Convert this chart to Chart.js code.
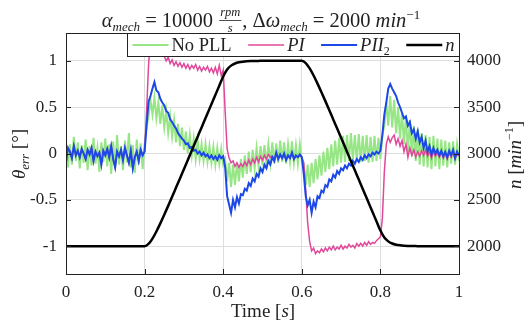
<!DOCTYPE html>
<html>
<head>
<meta charset="utf-8">
<script src="https://cdn.jsdelivr.net/npm/chart.js@4"></script>
<style>
  html, body { margin: 0; padding: 0; background: #fff; }
</style>
</head>
<body>
<canvas id="c" width="525" height="322"></canvas>
<script>
// sample times (s)
var tSample = [];
for (var i = 0; i <= 200; i++) tSample.push(+(i * 0.005).toFixed(3));
var tSpeed = [];
for (var k = 0; k <= 100; k++) tSpeed.push(+(k * 0.01).toFixed(2));

var seriesNames = ['No PLL', 'PI', 'PII2', 'n'];
var xTicks = [0, 0.2, 0.4, 0.6, 0.8, 1];
var leftTicks = [-1, -0.5, 0, 0.5, 1];
var rightTicks = [2000, 2500, 3000, 3500, 4000];

// theta_err [deg], No PLL
var noPll = [
  0.14, -0.15, 0.10, -0.12, 0.18, -0.08, 0.12, -0.16, 0.09, -0.10,
  0.15, -0.18, 0.08, -0.13, 0.17, -0.11, 0.06, -0.20, 0.12, -0.09,
  0.16, -0.14, 0.10, -0.22, 0.13, -0.16, 0.20, -0.12, 0.08, -0.18,
  0.14, -0.10, 0.22, -0.15, 0.09, -0.21, 0.15, -0.12, 0.11, -0.17,
  0.10, 0.28, 0.40, 0.58, 0.42, 0.60, 0.38, 0.55, 0.32, 0.52,
  0.28, 0.46, 0.22, 0.40, 0.18, 0.36, 0.12, 0.32, 0.08, 0.28,
  0.04, 0.24, 0.00, 0.20, -0.02, 0.16, -0.06, 0.14, -0.06, 0.10,
  -0.08, 0.10, -0.09, 0.08, -0.10, 0.07, -0.12, 0.06, -0.11, 0.05,
  -0.12, -0.06, -0.30, -0.10, -0.36, -0.12, -0.34, -0.10, -0.30, -0.06,
  -0.26, -0.02, -0.22, 0.02, -0.20, 0.04, -0.16, 0.06, -0.14, 0.08,
  -0.13, 0.09, -0.12, 0.10, -0.10, 0.12, -0.11, 0.11, -0.10, 0.14,
  -0.09, 0.12, -0.11, 0.10, -0.09, 0.13, -0.10, 0.09, -0.11, 0.10,
  -0.08, -0.12, -0.34, -0.12, -0.36, -0.10, -0.32, -0.06, -0.28, -0.02,
  -0.24, 0.02, -0.20, 0.06, -0.17, 0.10, -0.14, 0.14, -0.12, 0.17,
  -0.10, 0.19, -0.09, 0.20, -0.08, 0.22, -0.07, 0.20, -0.08, 0.21,
  -0.09, 0.19, -0.08, 0.20, -0.10, 0.18, -0.09, 0.19, -0.08, 0.17,
  -0.06, 0.20, 0.30, 0.55, 0.30, 0.62, 0.28, 0.58, 0.22, 0.50,
  0.16, 0.45, 0.10, 0.40, 0.02, 0.36, -0.03, 0.30, -0.08, 0.26,
  -0.12, 0.22, -0.14, 0.20, -0.15, 0.18, -0.17, 0.19, -0.14, 0.16,
  -0.17, 0.15, -0.13, 0.14, -0.15, 0.12, -0.11, 0.13, -0.12, 0.10,
  -0.08
];

// PI
var piErr = [
  -0.10, 0.06, 0.02, -0.05, 0.08, -0.02, 0.03, -0.04, 0.05, 0.00,
  -0.06, 0.04, -0.01, 0.06, -0.08, 0.02, -0.03, 0.01, -0.12, 0.03,
  -0.02, 0.05, -0.04, 0.08, -0.06, -0.15, 0.02, -0.03, 0.04, -0.07,
  0.06, -0.02, -0.10, 0.03, -0.16, -0.04, 0.02, -0.08, 0.04, -0.02,
  0.02, 0.45, 0.95, 1.25, 1.40, 1.45, 1.42, 1.38, 1.25, 1.15,
  1.05, 1.00, 1.04, 0.97, 1.01, 0.95, 0.99, 0.94, 0.98, 0.93,
  0.97, 0.92, 0.96, 0.91, 0.95, 0.92, 0.96, 0.90, 0.94, 0.89,
  0.93, 0.90, 0.94, 0.88, 0.92, 0.87, 0.93, 0.86, 0.95, 0.84,
  0.90, 0.45, 0.05, -0.05, -0.10, -0.08, -0.14, -0.10, -0.15, -0.11,
  -0.14, -0.09, -0.13, -0.07, -0.12, -0.06, -0.10, -0.04, -0.09, -0.03,
  -0.07, -0.02, -0.06, -0.01, -0.04, -0.03, -0.07, 0.00, -0.06, -0.02,
  -0.05, -0.01, -0.07, -0.03, -0.05, 0.00, -0.06, -0.03, -0.04, -0.02,
  -0.04, -0.10, -0.40, -0.75, -0.95, -1.05, -1.02, -1.08, -1.05, -1.07,
  -1.03, -1.06, -1.02, -1.05, -1.01, -1.04, -1.00, -1.04, -1.01, -1.03,
  -0.99, -1.03, -1.00, -1.02, -0.98, -1.01, -0.99, -1.02, -0.97, -1.00,
  -0.97, -1.00, -0.96, -0.99, -0.95, -0.98, -0.96, -0.97, -0.94, -0.92,
  -0.90, -0.70, -0.20, 0.10, 0.18, 0.12, 0.17, 0.20, 0.10, 0.16,
  0.08, 0.14, 0.02, 0.10, -0.04, 0.06, -0.02, 0.04, -0.04, 0.02,
  -0.03, 0.03, -0.02, 0.04, -0.03, 0.02, -0.05, 0.02, -0.03, 0.01,
  -0.04, 0.01, -0.05, 0.00, -0.06, 0.01, -0.04, 0.02, -0.06, 0.00,
  -0.03
];

// PII2
var pii2Err = [
  -0.10, 0.06, 0.02, -0.05, 0.08, -0.02, 0.03, -0.04, 0.05, 0.00,
  -0.06, 0.04, -0.01, 0.06, -0.08, 0.02, -0.03, 0.01, -0.12, 0.03,
  -0.02, 0.05, -0.04, 0.08, -0.06, -0.15, 0.02, -0.03, 0.04, -0.07,
  0.06, -0.02, -0.10, 0.03, -0.16, -0.04, 0.02, -0.08, 0.04, -0.02,
  0.02, 0.30, 0.56, 0.62, 0.70, 0.77, 0.68, 0.66, 0.59, 0.55,
  0.52, 0.46, 0.44, 0.37, 0.34, 0.30, 0.27, 0.22, 0.19, 0.16,
  0.14, 0.10, 0.11, 0.06, 0.07, 0.03, 0.04, 0.00, 0.02, -0.02,
  0.01, -0.03, -0.01, -0.05, -0.02, -0.06, -0.03, -0.07, -0.02, -0.05,
  -0.03, -0.15, -0.46, -0.55, -0.64, -0.50, -0.58, -0.47, -0.54, -0.44,
  -0.45, -0.38, -0.40, -0.32, -0.35, -0.27, -0.30, -0.22, -0.25, -0.16,
  -0.20, -0.12, -0.16, -0.08, -0.12, -0.04, -0.08, 0.01, -0.06, -0.01,
  -0.05, 0.00, -0.07, -0.02, -0.05, 0.01, -0.06, -0.02, -0.04, -0.01,
  -0.04, -0.22, -0.46, -0.56, -0.50, -0.64, -0.52, -0.58, -0.46, -0.48,
  -0.40, -0.42, -0.34, -0.36, -0.28, -0.30, -0.23, -0.26, -0.19, -0.22,
  -0.16, -0.18, -0.13, -0.16, -0.11, -0.13, -0.08, -0.11, -0.06, -0.09,
  -0.04, -0.07, -0.02, -0.05, -0.01, -0.03, 0.01, -0.01, 0.02, 0.00,
  0.03, 0.20, 0.42, 0.55, 0.70, 0.75, 0.70, 0.66, 0.62, 0.55,
  0.50, 0.44, 0.38, 0.40, 0.30, 0.34, 0.22, 0.26, 0.16, 0.24,
  0.12, 0.18, 0.06, 0.14, 0.02, 0.08, -0.01, 0.06, 0.00, 0.04,
  -0.02, 0.03, -0.03, 0.02, -0.04, 0.03, -0.02, 0.04, -0.05, 0.02,
  -0.02
];

// speed n [1/min]
var speed = [
  2000, 2000, 2000, 2000, 2000, 2000, 2000, 2000, 2000, 2000,
  2000, 2000, 2000, 2000, 2000, 2000, 2000, 2000, 2000, 2000,
  2000, 2024, 2082, 2159, 2246, 2339, 2435, 2533, 2632, 2731,
  2831, 2931, 3031, 3131, 3231, 3331, 3431, 3531, 3631, 3731,
  3831, 3906, 3948, 3971, 3984, 3991, 3995, 3997, 3998, 3999,
  4000, 4000, 4000, 4000, 4000, 4000, 4000, 4000, 4000, 4000,
  4000, 3976, 3918, 3841, 3754, 3661, 3565, 3467, 3368, 3269,
  3169, 3069, 2969, 2869, 2769, 2669, 2569, 2469, 2369, 2269,
  2169, 2094, 2052, 2029, 2016, 2009, 2005, 2003, 2002, 2001,
  2000, 2000, 2000, 2000, 2000, 2000, 2000, 2000, 2000, 2000,
  2000
];

var serif = '"Liberation Serif", "DejaVu Serif", serif';
function fnt(sz, it) { return (it ? 'italic ' : '') + sz + 'px ' + serif; }

function partWidth(ctx, p) {
  if (p.frac) {
    ctx.font = fnt(p.sz, true);
    return Math.max(ctx.measureText(p.frac[0]).width, ctx.measureText(p.frac[1]).width) + 4;
  }
  ctx.font = fnt(p.sz, p.it);
  return ctx.measureText(p.s).width;
}
function richWidth(ctx, parts) {
  var w = 0;
  parts.forEach(function (p) { w += partWidth(ctx, p); });
  return w;
}

// draws text made of pieces (italic, sub/superscript, fraction)
function drawRich(ctx, parts, x, y, align) {
  var w = richWidth(ctx, parts);
  var cx = align === 'center' ? x - w / 2 : x;
  ctx.textBaseline = 'alphabetic';
  ctx.fillStyle = '#222';
  parts.forEach(function (p) {
    var pw = partWidth(ctx, p);
    if (p.frac) {
      ctx.font = fnt(p.sz, true);
      ctx.textAlign = 'center';
      ctx.fillText(p.frac[0], cx + pw / 2, y - 11);
      ctx.fillText(p.frac[1], cx + pw / 2, y + 5);
      ctx.fillRect(cx + 1, y - 7, pw - 2, 0.8);
    } else {
      ctx.font = fnt(p.sz, p.it);
      ctx.textAlign = 'left';
      ctx.fillText(p.s, cx, y + (p.dy || 0));
    }
    cx += pw;
  });
  return w;
}

var decor = {
  id: 'decor',
  afterDraw: function (chart) {
    var ctx = chart.ctx, a = chart.chartArea;
    var sx = chart.scales.x, sy = chart.scales.y, sy2 = chart.scales.y2;
    ctx.save();
    // axes box
    ctx.strokeStyle = '#222';
    ctx.lineWidth = 1;
    ctx.strokeRect(Math.round(a.left) + 0.5, Math.round(a.top) + 0.5,
      Math.round(a.right - a.left), Math.round(a.bottom - a.top));
    // inward ticks
    ctx.beginPath();
    leftTicks.forEach(function (v) {
      var py = Math.round(sy.getPixelForValue(v)) + 0.5;
      ctx.moveTo(a.left, py); ctx.lineTo(a.left + 5, py);
    });
    rightTicks.forEach(function (v) {
      var py = Math.round(sy2.getPixelForValue(v)) + 0.5;
      ctx.moveTo(a.right, py); ctx.lineTo(a.right - 5, py);
    });
    xTicks.forEach(function (v) {
      var px = Math.round(sx.getPixelForValue(v)) + 0.5;
      ctx.moveTo(px, a.bottom); ctx.lineTo(px, a.bottom - 5);
    });
    ctx.stroke();

    // legend
    var lf = 18.5;
    var items = [
      { c: chart.data.datasets[0].borderColor, w: 2, parts: [{ s: seriesNames[0], sz: lf }] },
      { c: chart.data.datasets[1].borderColor, w: 1.5, parts: [{ s: seriesNames[1], it: 1, sz: lf }] },
      { c: chart.data.datasets[2].borderColor, w: 2, parts: [{ s: 'PII', it: 1, sz: lf }, { s: '2', sz: 12, dy: 4 }] },
      { c: chart.data.datasets[3].borderColor, w: 2.5, parts: [{ s: seriesNames[3], it: 1, sz: lf }] }
    ];
    var bx0 = 127.5, bx1 = Math.round(a.right) + 0.5, by0 = Math.round(a.top) + 0.5, by1 = 56.5;
    ctx.fillStyle = '#fff';
    ctx.fillRect(bx0, by0, bx1 - bx0, by1 - by0);
    ctx.strokeStyle = '#222';
    ctx.lineWidth = 1;
    ctx.strokeRect(bx0, by0, bx1 - bx0, by1 - by0);
    var lineLen = 36, gapT = 3;
    var natural = 0;
    items.forEach(function (it) { it.tw = richWidth(ctx, it.parts); natural += lineLen + gapT + it.tw; });
    var gap = (bx1 - bx0 - 10 - natural) / (items.length - 1);
    var lx = bx0 + 5, ly = 45;
    items.forEach(function (it) {
      ctx.strokeStyle = it.c;
      ctx.lineWidth = it.w;
      ctx.beginPath();
      ctx.moveTo(lx, ly); ctx.lineTo(lx + lineLen, ly);
      ctx.stroke();
      drawRich(ctx, it.parts, lx + lineLen + gapT, 51, 'left');
      lx += lineLen + gapT + it.tw + gap;
    });

    // title
    drawRich(ctx, [
      { s: 'α', it: 1, sz: 20.5 }, { s: 'mech', it: 1, sz: 13, dy: 4 },
      { s: ' = 10000 ', sz: 20.5 }, { frac: ['rpm', 's'], sz: 12.5 },
      { s: ', Δ', sz: 20.5 }, { s: 'ω', it: 1, sz: 20.5 }, { s: 'mech', it: 1, sz: 13, dy: 4 },
      { s: ' = 2000 ', sz: 20.5 }, { s: 'min', it: 1, sz: 20.5 }, { s: '−1', sz: 13, dy: -8 }
    ], 261, 27, 'center');

    // x axis title
    drawRich(ctx, [{ s: 'Time [', sz: 19 }, { s: 's', it: 1, sz: 19 }, { s: ']', sz: 19 }], 263, 317, 'center');

    // left axis title
    ctx.save();
    ctx.translate(25, 154);
    ctx.rotate(-Math.PI / 2);
    drawRich(ctx, [{ s: 'θ', it: 1, sz: 19 }, { s: 'err', it: 1, sz: 13, dy: 4 }, { s: ' [°]', sz: 19 }], 0, 0, 'center');
    ctx.restore();

    // right axis title
    ctx.save();
    ctx.translate(521, 155);
    ctx.rotate(-Math.PI / 2);
    drawRich(ctx, [{ s: 'n', it: 1, sz: 19 }, { s: ' [', sz: 19 }, { s: 'min', it: 1, sz: 19 },
      { s: '−1', sz: 12, dy: -8 }, { s: ']', sz: 19 }], 0, 0, 'center');
    ctx.restore();
    ctx.restore();
  }
};

function pts(ts, vs) {
  return ts.map(function (t, i) { return { x: t, y: vs[i] }; });
}

var tickFont = { family: serif, size: 17 };

var ctx = document.getElementById('c').getContext('2d');
var chart = new Chart(ctx, {
  type: 'line',
  data: {
    datasets: [
      { label: seriesNames[0], data: pts(tSample, noPll), borderColor: '#96e685', borderWidth: 2, yAxisID: 'y', order: 3 },
      { label: seriesNames[1], data: pts(tSample, piErr), borderColor: '#e0489a', borderWidth: 1.5, yAxisID: 'y', order: 2 },
      { label: seriesNames[2], data: pts(tSample, pii2Err), borderColor: '#1b48e6', borderWidth: 2, yAxisID: 'y', order: 1 },
      { label: seriesNames[3], data: pts(tSpeed, speed), borderColor: '#000000', borderWidth: 2.5, yAxisID: 'y2', order: 0, cubicInterpolationMode: 'monotone' }
    ]
  },
  options: {
    responsive: false,
    animation: false,
    devicePixelRatio: 1,
    layout: { padding: { top: 33, left: 0, right: 0, bottom: 0 } },
    elements: { point: { radius: 0 }, line: { tension: 0 } },
    plugins: { legend: { display: false }, tooltip: { enabled: false }, title: { display: false } },
    scales: {
      x: {
        type: 'linear', min: 0, max: 1,
        afterFit: function (s) { s.height = 48; },
        afterBuildTicks: function (s) { s.ticks = xTicks.map(function (v) { return { value: v }; }); },
        grid: { color: '#dedede', drawTicks: false },
        border: { display: false },
        ticks: { font: tickFont, color: '#222', padding: 8, maxRotation: 0,
          callback: function (v) { return String(v); } }
      },
      y: {
        type: 'linear', position: 'left', min: -1.3, max: 1.3,
        afterFit: function (s) { s.width = 66; },
        afterBuildTicks: function (s) { s.ticks = leftTicks.map(function (v) { return { value: v }; }); },
        grid: { color: '#dedede', drawTicks: false },
        border: { display: false },
        ticks: { font: tickFont, color: '#222', padding: 9,
          callback: function (v) { return String(v); } }
      },
      y2: {
        type: 'linear', position: 'right', min: 1700, max: 4300,
        afterFit: function (s) { s.width = 66; },
        afterBuildTicks: function (s) { s.ticks = rightTicks.map(function (v) { return { value: v }; }); },
        grid: { display: false, drawTicks: false },
        border: { display: false },
        ticks: { font: tickFont, color: '#222', padding: 8,
          callback: function (v) { return String(v); } }
      }
    }
  },
  plugins: [decor]
});
</script>
</body>
</html>
